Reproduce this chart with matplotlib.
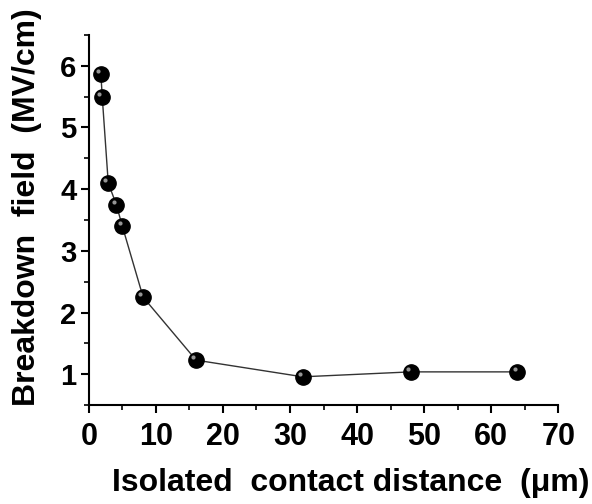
import numpy as np
import matplotlib
matplotlib.use("Agg")
import matplotlib.pyplot as plt
from matplotlib import transforms
from matplotlib.ticker import MultipleLocator

plt.rcParams['font.family'] = ['Liberation Sans', 'DejaVu Sans']
plt.rcParams['font.weight'] = 'bold'

# contact distance (um) and breakdown field (MV/cm)
distance = [1.8, 2.0, 2.9, 4.1, 5.0, 8.1, 16.0, 31.9, 48.0, 63.9]
field = [5.87, 5.50, 4.10, 3.75, 3.40, 2.25, 1.23, 0.96, 1.04, 1.04]

fig = plt.figure(figsize=(5.92, 5.04), dpi=100)
ax = fig.add_axes([0.150, 0.196, 0.793, 0.735])

ax.plot(distance, field, color='#333333', lw=1.0, zorder=2)
ax.plot(distance, field, 'o', color='black', ms=11, zorder=3)
# little shine on each ball
shine = transforms.offset_copy(ax.transData, fig=fig, x=-2, y=2, units='points')
ax.plot(distance, field, 'o', color='#bbbbbb', ms=3, mew=0, alpha=0.8,
        transform=shine, zorder=4)

ax.set_xlim(0, 70)
ax.set_ylim(0.5, 6.5)
ax.xaxis.set_major_locator(MultipleLocator(10))
ax.xaxis.set_minor_locator(MultipleLocator(5))
ax.yaxis.set_major_locator(MultipleLocator(1))
ax.yaxis.set_minor_locator(MultipleLocator(0.5))

for s in ['top', 'right']:
    ax.spines[s].set_visible(False)
for s in ['left', 'bottom']:
    ax.spines[s].set_linewidth(1.5)

ax.tick_params(which='major', direction='out', length=6, width=1.5)
ax.tick_params(which='minor', direction='out', length=3.5, width=1.2)
ax.tick_params(axis='x', which='major', labelsize=22, pad=6)
ax.tick_params(axis='y', which='major', labelsize=21, pad=3)

ax.set_xlabel('Isolated  contact distance  (μm)', fontsize=23, fontweight='bold')
ax.set_ylabel('Breakdown  field  (MV/cm)', fontsize=23, fontweight='bold')
ax.xaxis.label.set_va('center')
ax.yaxis.label.set_va('center')
ax.xaxis.set_label_coords(0.559, -0.211)
ax.yaxis.set_label_coords(-0.132, 0.535)

fig.savefig('out.png', dpi=100)
